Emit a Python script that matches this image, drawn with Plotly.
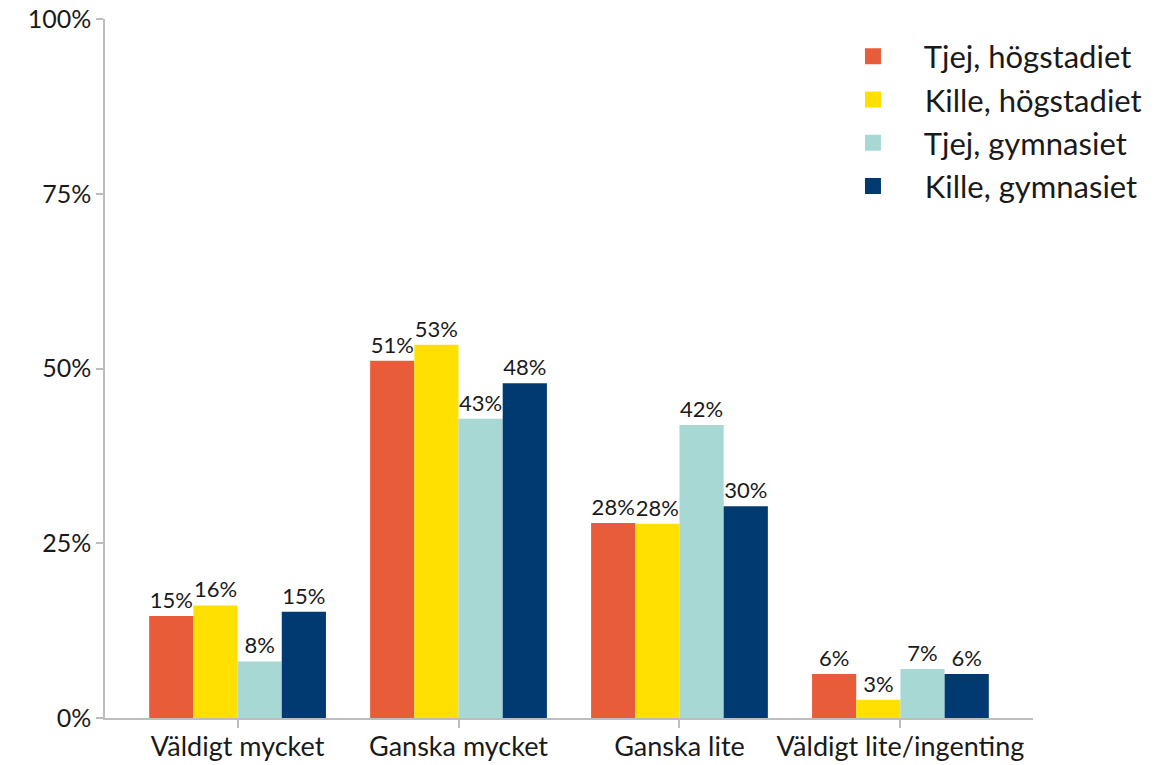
import plotly.graph_objects as go

categories = ["Väldigt mycket", "Ganska mycket", "Ganska lite", "Väldigt lite/ingenting"]
series_names = ["Tjej, högstadiet", "Kille, högstadiet", "Tjej, gymnasiet", "Kille, gymnasiet"]
tjej_hog = [14.6, 51.1, 27.9, 6.3]
kille_hog = [16.1, 53.4, 27.8, 2.6]
tjej_gym = [8.1, 42.8, 41.9, 7.0]
kille_gym = [15.2, 47.9, 30.3, 6.3]
colors = ["#E95C3A", "#FFE000", "#A8D8D4", "#003A70"]
y_ticks = [0, 25, 50, 75, 100]

FONT = "Lato"
PAD = "\u00a0" * 4
fig = go.Figure()
for name, vals, col in zip(series_names, [tjej_hog, kille_hog, tjej_gym, kille_gym], colors):
    fig.add_trace(go.Bar(
        x=categories, y=vals, name=name, marker_color=col, marker_line_width=0,
        texttemplate="%{y:.0f}%", textposition="outside", constraintext="none",
        cliponaxis=False, textfont=dict(family=FONT, size=22, color="#1a1a1a"),
        showlegend=False, hoverinfo="skip"))
    fig.add_trace(go.Scatter(
        x=[None], y=[None], mode="markers", name=PAD + name,
        marker=dict(symbol="square", size=20, color=col), showlegend=True))

fig.update_layout(
    width=1173, height=765,
    margin=dict(l=105, r=140, t=19, b=47, autoexpand=False),
    paper_bgcolor="white", plot_bgcolor="white",
    barmode="group", bargap=0.2, bargroupgap=0,
    font=dict(family=FONT, color="#1a1a1a"),
    legend=dict(x=0.806, y=0.985, xanchor="left", yanchor="top",
                font=dict(family=FONT, size=31, color="#1a1a1a"),
                itemsizing="trace", tracegroupgap=0, bgcolor="rgba(0,0,0,0)"),
    xaxis=dict(range=[-0.6, 3.6], showline=True, linecolor="#BDBDBD", linewidth=1.5,
               ticks="outside", ticklen=8, tickcolor="#BDBDBD", tickwidth=1.5,
               tickfont=dict(family=FONT, size=27, color="#1a1a1a"), showgrid=False,
               ticklabelstandoff=-4, automargin=False),
    yaxis=dict(range=[0, 100], tickvals=y_ticks, ticktext=[f"{t}%" for t in y_ticks],
               showline=True, linecolor="#BDBDBD", linewidth=1.5,
               ticks="outside", ticklen=7, tickcolor="#BDBDBD", tickwidth=1.5,
               tickfont=dict(family=FONT, size=25, color="#1a1a1a"),
               showgrid=False, zeroline=False, automargin=False),
)
fig.write_html("out.html", config={"displayModeBar": False},
               post_script="document.body.style.margin='0';document.body.style.overflow='hidden';")
